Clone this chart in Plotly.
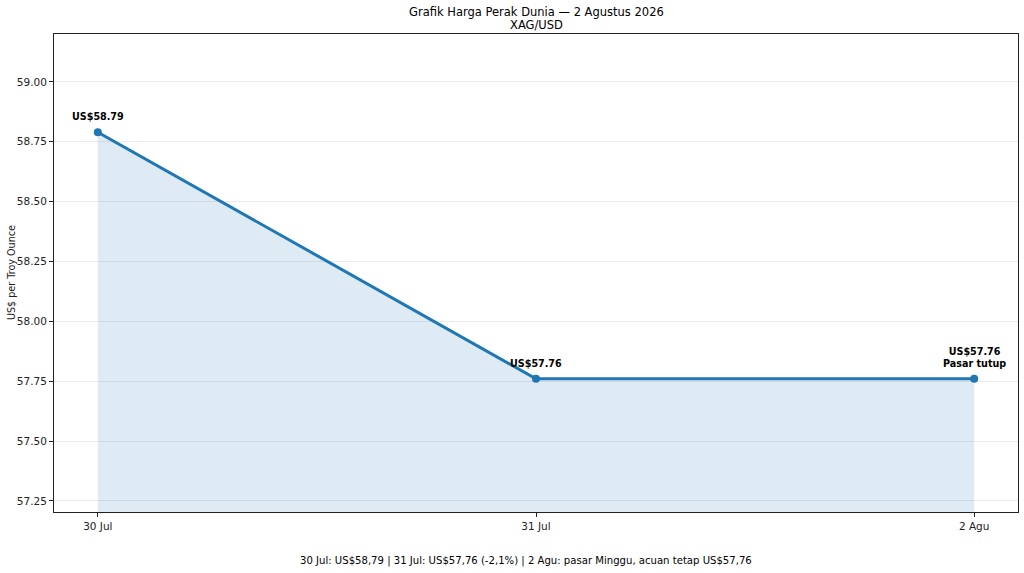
import plotly.graph_objects as go

# data
dates = ["30 Jul", "31 Jul", "2 Agu"]
prices = [58.79, 57.76, 57.76]
labels = ["US$58.79", "US$57.76", "US$57.76<br>Pasar tutup"]
yticks = [57.25, 57.50, 57.75, 58.00, 58.25, 58.50, 58.75, 59.00]
title_lines = ["Grafik Harga Perak Dunia — 2 Agustus 2026", "XAG/USD"]
ytitle = "US$ per Troy Ounce"
footer = "30 Jul: US$58,79 | 31 Jul: US$57,76 (-2,1%) | 2 Agu: pasar Minggu, acuan tetap US$57,76"

xs = list(range(len(dates)))
blue = "#1f77b4"


def paper_y(px):
    # pixel row (from top) -> paper coords, plot area spans rows 34..512
    return (512 - px) / (512 - 34)


def paper_x(px):
    # pixel column -> paper coords, plot area spans columns 54..1018
    return (px - 54) / (1018 - 54)


fig = go.Figure()
fig.add_trace(go.Scatter(
    x=xs, y=prices, mode="lines+markers",
    line=dict(color=blue, width=3),
    marker=dict(color=blue, size=8),
    fill="tozeroy", fillcolor="rgba(31,119,180,0.15)",
    hoverinfo="skip", showlegend=False,
))

for x, y, t in zip(xs, prices, labels):
    fig.add_annotation(
        x=x, y=y, text="<b>" + t + "</b>", showarrow=False,
        yanchor="bottom", yshift=8,
        font=dict(family="DejaVu Sans", size=9.6, color="black"),
    )

fig.add_annotation(x=0.5, y=paper_y(12), xref="paper", yref="paper",
                   text=title_lines[0], showarrow=False, yanchor="middle",
                   font=dict(family="DejaVu Sans", size=11.5, color="black"))
fig.add_annotation(x=0.5, y=paper_y(25), xref="paper", yref="paper",
                   text=title_lines[1], showarrow=False, yanchor="middle",
                   font=dict(family="DejaVu Sans", size=11.5, color="black"))
fig.add_annotation(x=paper_x(526), y=paper_y(561), xref="paper", yref="paper",
                   text=footer, showarrow=False, yanchor="middle",
                   font=dict(family="DejaVu Sans", size=10.1, color="black"))
fig.add_annotation(x=paper_x(11), y=0.5, xref="paper", yref="paper",
                   text=ytitle, showarrow=False, textangle=-90,
                   xanchor="center", yanchor="middle",
                   font=dict(family="DejaVu Sans", size=9.6, color="#222"))

fig.update_layout(
    width=1024, height=573,
    paper_bgcolor="white", plot_bgcolor="white",
    margin=dict(l=54, r=6, t=34, b=61, autoexpand=False),
    font=dict(family="DejaVu Sans", size=10.5, color="#222"),
    xaxis=dict(
        range=[-0.1, 2.1], tickvals=xs, ticktext=dates, automargin=False,
        showgrid=False, zeroline=False,
        showline=True, linecolor="#222", linewidth=1, mirror=True,
        ticks="outside", ticklen=4, tickcolor="#222",
    ),
    yaxis=dict(
        range=[57.204, 59.20], tickvals=yticks, automargin=False,
        ticktext=["%.2f" % v for v in yticks],
        showgrid=True, gridcolor="rgba(0,0,0,0.08)", zeroline=False,
        showline=True, linecolor="#222", linewidth=1, mirror=True,
        ticks="outside", ticklen=4, tickcolor="#222",
    ),
)

fig.write_html("out.html", config={"displayModeBar": False},
               post_script="document.body.style.margin='0';")
